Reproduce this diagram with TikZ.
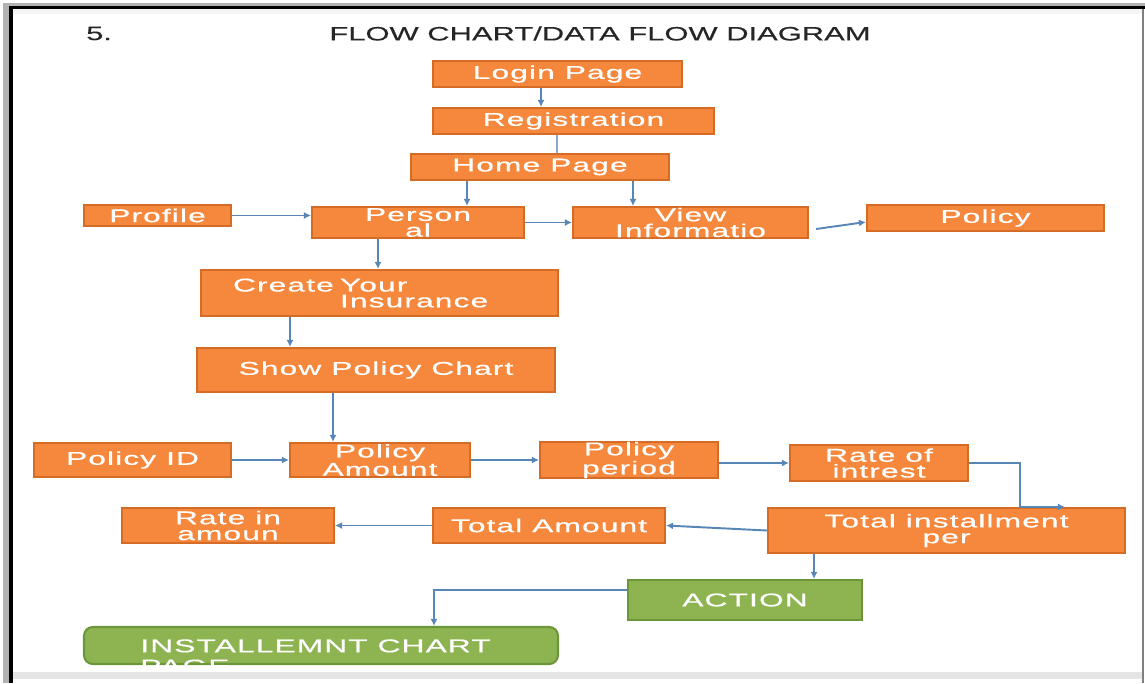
\documentclass[tikz,border=0pt]{standalone}
\usepackage{fontspec}
\usetikzlibrary{arrows.meta}
\setmainfont{Liberation Sans}
\newfontfamily\titlefont{Liberation Sans}[FakeStretch=1.6, FakeBold=0.3]
\newfontfamily\boxfont{Liberation Sans}[FakeStretch=1.72, LetterSpace=6, FakeBold=0.6]

\definecolor{boxfill}{RGB}{245,136,60}
\definecolor{boxedge}{RGB}{212,108,40}
\definecolor{actfill}{RGB}{141,180,80}
\definecolor{actedge}{RGB}{108,150,58}
\definecolor{linkblue}{RGB}{88,134,182}

\tikzset{
	orangebox/.style={draw=boxedge, fill=boxfill, line width=1.2pt, text=white, inner sep=0pt,
		align=center, font=\boxfont\fontsize{10.5}{9}\selectfont},
	greenbox/.style={orangebox, draw=actedge, fill=actfill},
	flow/.style={draw=linkblue, line width=1.1pt, -{Latex[length=4pt,width=4pt]}}
}

\begin{document}
\begin{tikzpicture}[x=0.02cm, y=-0.02cm]
	\useasboundingbox (0,0) rectangle (1145,683);
	% screenshot frame
	\fill[gray!60] (3,3) rectangle (9,683);
	\fill[black] (9,6) rectangle (13,683);
	\fill[gray!60] (3,3) rectangle (1145,6);
	\fill[black] (9,6) rectangle (1145,9);
	\fill[black!4] (13,9) rectangle (1142,14);
	\fill[gray] (1142,9) rectangle (1144,683);
	\fill[black!10] (13,672) rectangle (1142,679);

	% heading
	\node[font=\titlefont\fontsize{11}{13}\selectfont, text=black!85, anchor=west] (num) at (80,33.5) {5.};
	\node[font=\titlefont\fontsize{11}{13}\selectfont, text=black!85] (title) at (600,33.5) {FLOW CHART/DATA FLOW DIAGRAM};

	% boxes
	\node[orangebox, minimum width=4.98cm, minimum height=0.52cm] (login) at (557.5,74) {Login Page};
	\node[orangebox, minimum width=5.62cm, minimum height=0.52cm] (reg) at (573.5,121) {Registration};
	\node[orangebox, minimum width=5.16cm, minimum height=0.52cm] (home) at (540,167) {Home Page};
	\node[orangebox, minimum width=2.94cm, minimum height=0.42cm] (profile) at (157.5,215.5) {Profile};
	\node[orangebox, minimum width=4.24cm, minimum height=0.62cm] (personal) at (418,222.5) {Person\\al};
	\node[orangebox, minimum width=4.70cm, minimum height=0.62cm] (view) at (690.5,222.5) {View\\Informatio};
	\node[orangebox, minimum width=4.74cm, minimum height=0.52cm] (policy) at (985.5,218) {Policy};
	\node[orangebox, text width=5.86cm, inner xsep=0.64cm, align=left, minimum height=0.92cm] (create) at (379.5,293)
		{Create Your\\\hspace*{2.14cm}Insurance};
	\node[orangebox, minimum width=7.16cm, minimum height=0.88cm] (show) at (376,370) {Show Policy Chart};
	\node[orangebox, minimum width=3.94cm, minimum height=0.68cm] (pid) at (132.5,460) {Policy ID};
	\node[orangebox, minimum width=3.60cm, minimum height=0.68cm] (pamount) at (380,460) {Policy\\Amount};
	\node[orangebox, minimum width=3.56cm, minimum height=0.68cm] (pperiod) at (629,460) {Policy\\period};
	\node[orangebox, minimum width=3.56cm, minimum height=0.72cm] (rate) at (879,463) {Rate of\\intrest};
	\node[orangebox, minimum width=4.24cm, minimum height=0.70cm] (rateamt) at (228,525.5) {Rate in\\amoun};
	\node[orangebox, minimum width=4.64cm, minimum height=0.70cm] (totamt) at (549,525.5) {Total Amount};
	\node[orangebox, minimum width=7.14cm, minimum height=0.90cm] (totinst) at (946.5,530.5) {Total installment\\per};
	\node[greenbox, minimum width=4.68cm, minimum height=0.80cm] (action) at (745,600) {ACTION};
	\node[greenbox, rounded corners=5pt, minimum width=9.48cm, minimum height=0.74cm] (inst) at (321,645.5) {};
	\begin{scope}
		\clip (inst.south west) rectangle (inst.north east);
		\node[anchor=north west, text=white, align=left, inner sep=0pt,
			font=\boxfont\fontsize{10.5}{11.5}\selectfont] (insttext) at (140,639) {INSTALLEMNT CHART\\PAGE};
	\end{scope}

	% connectors
	\draw[flow] ([xshift=-0.33cm]login.south) -- ([xshift=-0.33cm]login.south |- reg.north);
	\draw[draw=linkblue!70, line width=1.1pt] ([xshift=-0.33cm]reg.south) -- ([xshift=-0.33cm]reg.south |- home.north);
	\draw[flow] ([xshift=-1.46cm]home.south) -- ([xshift=-1.46cm]home.south |- personal.north);
	\draw[flow] ([xshift=1.86cm]home.south) -- ([xshift=1.86cm]home.south |- view.north);
	\draw[flow] (profile.east) -- (profile.east -| personal.west);
	\draw[flow] (personal.east) -- (view.west);
	\draw[flow] ([shift={(0.14cm,-0.13cm)}]view.east) -- ([yshift=-0.08cm]policy.west);
	\draw[flow] ([xshift=-0.8cm]personal.south) -- ([xshift=-0.8cm]personal.south |- create.north);
	\draw[flow] ([xshift=-1.79cm]create.south) -- ([xshift=-1.79cm]create.south |- show.north);
	\draw[flow] ([xshift=-0.86cm]show.south) -- ([xshift=-0.86cm]show.south |- pamount.north);
	\draw[flow] (pid.east) -- (pamount.west);
	\draw[flow] (pamount.east) -- (pperiod.west);
	\draw[flow] (rate.west -| pperiod.east) -- (rate.west);
	\draw[flow] (rate.east) -| ([xshift=1.47cm]totinst.north) -- ([xshift=2.37cm]totinst.north);
	\draw[flow] (totinst.west) -- (totamt.east);
	\draw[flow] (totamt.west) -- (rateamt.east);
	\draw[flow] ([xshift=-2.65cm]totinst.south) -- ([xshift=-2.65cm]totinst.south |- action.north);
	\draw[flow] ([yshift=0.2cm]action.west) -| ([xshift=2.26cm]inst.north);
\end{tikzpicture}
\end{document}
